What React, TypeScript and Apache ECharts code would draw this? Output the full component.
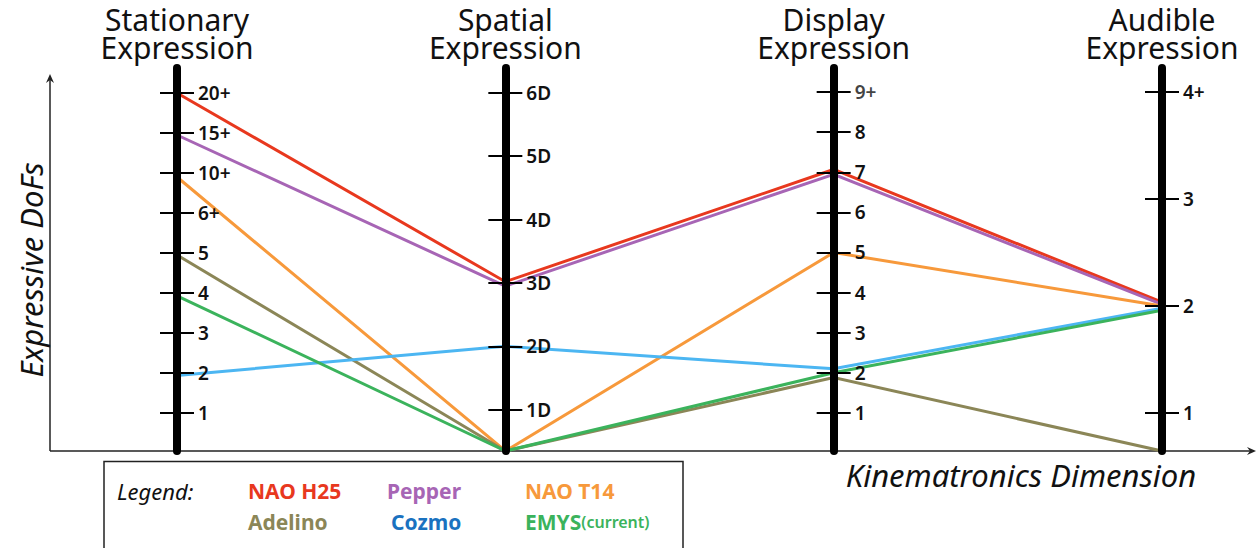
import React, { useEffect, useRef } from 'react';
import * as echarts from 'echarts';

// ---- data ----
const DIMENSIONS = ['Stationary\nExpression', 'Spatial\nExpression', 'Display\nExpression', 'Audible\nExpression'];
const STATIONARY_LABELS = ['1', '2', '3', '4', '5', '6+', '10+', '15+', '20+'];
const SPATIAL_LABELS = ['1D', '2D', '3D', '4D', '5D', '6D'];
const DISPLAY_LABELS = ['1', '2', '3', '4', '5', '6', '7', '8', '9+'];
const AUDIBLE_LABELS = ['1', '2', '3', '4+'];
const AXIS_LABELS = [STATIONARY_LABELS, SPATIAL_LABELS, DISPLAY_LABELS, AUDIBLE_LABELS];
// axis floor ("none") and ceiling per dimension
const AXIS_MIN = [0.05, 0.35, 0.05, 0.645];
const AXIS_MAX = [9.625, 6.39, 9.6, 4.224];

const ROBOTS = ['NAO H25', 'Pepper', 'NAO T14', 'Adelino', 'Cozmo', 'EMYS'];
// values: 0 = none (axis floor)
const NAO_H25 = [9, 3.02, 7.07, 2.035];
const PEPPER = [7.95, 2.95, 6.95, 2.015];
const NAO_T14 = [6.9, 0, 5, 2.0];
const ADELINO = [4.95, 0, 1.88, 0];
const COZMO = [1.94, 2, 2.1, 1.98];
const EMYS = [3.93, 0, 2.0, 1.96];
const ROBOT_VALUES = [NAO_H25, PEPPER, NAO_T14, ADELINO, COZMO, EMYS];
const LINE_COLORS = ['#e8381e', '#a765b5', '#f7993b', '#8b8657', '#4cb6f2', '#3bb35c'];
const LEGEND_COLORS = ['#e8381e', '#a765b5', '#f7993b', '#8b8657', '#1a72c0', '#3bb35c'];

const FONT = 'Noto Sans';

export default function App() {
  const ref = useRef<HTMLDivElement>(null);

  useEffect(() => {
    if (!ref.current) return;
    const chart = echarts.init(ref.current, undefined, { renderer: 'svg' });

    const toSeriesRow = (vals: number[]) => vals.map((v, i) => (v === 0 ? AXIS_MIN[i] : v));

    const makeAxes = (parallelIndex: number) =>
      DIMENSIONS.map((name, i) => {
        const ticks = AXIS_LABELS[i].map((_, k) => k + 1);
        return {
          dim: i,
          parallelIndex,
          type: 'value',
          name: parallelIndex === 0 ? name : '',
          nameLocation: 'end',
          nameGap: 7,
          nameTextStyle: { fontSize: 30, lineHeight: 28, color: '#111', fontFamily: FONT },
          min: AXIS_MIN[i],
          max: AXIS_MAX[i],
          silent: true,
          axisLine: { show: parallelIndex === 0, lineStyle: { color: '#000', width: 8 } },
          axisTick: {
            show: true,
            length: 17,
            customValues: ticks,
            lineStyle: { color: '#000', width: 2 },
          },
          axisLabel: {
            show: parallelIndex === 0,
            customValues: ticks,
            margin: 21,
            fontSize: 19,
            fontWeight: 600,
            color: '#111',
            fontFamily: FONT,
            formatter: (v: number) => {
              if (parallelIndex !== 0) return '';
              const t = AXIS_LABELS[i][Math.round(v) - 1] ?? '';
              return i === 2 && t === '9+' ? '{g|' + t + '}' : t;
            },
            rich: { g: { color: '#444', fontSize: 19, fontWeight: 600, fontFamily: FONT } },
          },
          splitLine: { show: false },
        };
      });

    const series: any[] = ROBOTS.map((name, r) => ({
      type: 'parallel',
      name,
      parallelIndex: 0,
      color: LINE_COLORS[r],
      lineStyle: { width: 3, opacity: 1, color: LINE_COLORS[r] },
      inactiveOpacity: 1,
      activeOpacity: 1,
      silent: true,
      z: 1,
      data: [toSeriesRow(ROBOT_VALUES[r])],
    }));
    // the companion (left-tick) layout needs the same data to build its scales; drawn invisibly
    series.push({
      type: 'parallel',
      name: 'ticks-left',
      parallelIndex: 1,
      silent: true,
      lineStyle: { width: 0, opacity: 0 },
      inactiveOpacity: 0,
      activeOpacity: 0,
      data: ROBOT_VALUES.map(toSeriesRow),
    });

    const LEGEND_LEFT = [242, 381, 519, 242, 385, 519];
    const LEGEND_TOP = [480, 480, 480, 511, 511, 511];
    const legends = ROBOTS.map((name, r) => ({
      orient: 'horizontal',
      left: LEGEND_LEFT[r],
      top: LEGEND_TOP[r],
      itemWidth: 0,
      itemHeight: 20,
      padding: 0,
      selectedMode: false,
      icon: 'rect',
      itemStyle: { opacity: 0 },
      data: [{ name, textStyle: { color: LEGEND_COLORS[r] } }],
      formatter: (n: string) => (n === 'EMYS' ? '{b|EMYS}{s|(current)}' : n),
      textStyle: {
        fontSize: 21,
        fontWeight: 700,
        fontFamily: FONT,
        rich: {
          b: { fontSize: 21, fontWeight: 700, color: LEGEND_COLORS[5], fontFamily: FONT },
          s: { fontSize: 16, fontWeight: 600, color: LEGEND_COLORS[5], fontFamily: FONT },
        },
      },
    }));

    const axisColor = '#222';
    chart.setOption({
      animation: false,
      parallel: [
        { left: 177, right: 96, top: 68, bottom: 97, layout: 'horizontal' },
        // companion layout shifted left so its ticks cross to the left side of each axis
        { left: 160, right: 113, top: 68, bottom: 97, layout: 'horizontal' },
      ],
      parallelAxis: [...makeAxes(0), ...makeAxes(1)],
      legend: legends,
      graphic: [
        {
          type: 'rect',
          z: -1,
          shape: { x: 104, y: 461.5, width: 579, height: 100 },
          style: { fill: '#fff', stroke: '#222', lineWidth: 1.5 },
        },
        {
          type: 'text',
          x: 117,
          y: 491,
          style: { text: 'Legend:', fontSize: 22, fontStyle: 'italic', fontFamily: FONT, fill: '#111', verticalAlign: 'middle' },
        },
        {
          type: 'line',
          shape: { x1: 50, y1: 451, x2: 50, y2: 78 },
          style: { stroke: axisColor, lineWidth: 1.5 },
        },
        {
          type: 'polygon',
          shape: { points: [[50, 74], [46, 83], [50, 80], [54, 83]] },
          style: { fill: axisColor },
        },
        {
          type: 'line',
          shape: { x1: 50, y1: 451, x2: 1252, y2: 451 },
          style: { stroke: axisColor, lineWidth: 1.5 },
        },
        {
          type: 'polygon',
          shape: { points: [[1256, 451], [1247, 447], [1250, 451], [1247, 455]] },
          style: { fill: axisColor },
        },
        {
          type: 'text',
          x: 31,
          y: 270,
          rotation: Math.PI / 2,
          style: {
            text: 'Expressive DoFs', fontSize: 31, fontStyle: 'italic', fontFamily: FONT, fill: '#111',
            align: 'center', verticalAlign: 'middle',
          },
        },
        {
          type: 'text',
          x: 1021,
          y: 475,
          style: {
            text: 'Kinematronics Dimension', fontSize: 31, fontStyle: 'italic', fontFamily: FONT, fill: '#111',
            align: 'center', verticalAlign: 'middle',
          },
        },
      ],
      series,
    });

    return () => chart.dispose();
  }, []);

  return (
    <div
      ref={ref}
      style={{ position: 'fixed', left: 0, top: 0, width: 1258, height: 548, background: '#fff' }}
    />
  );
}
